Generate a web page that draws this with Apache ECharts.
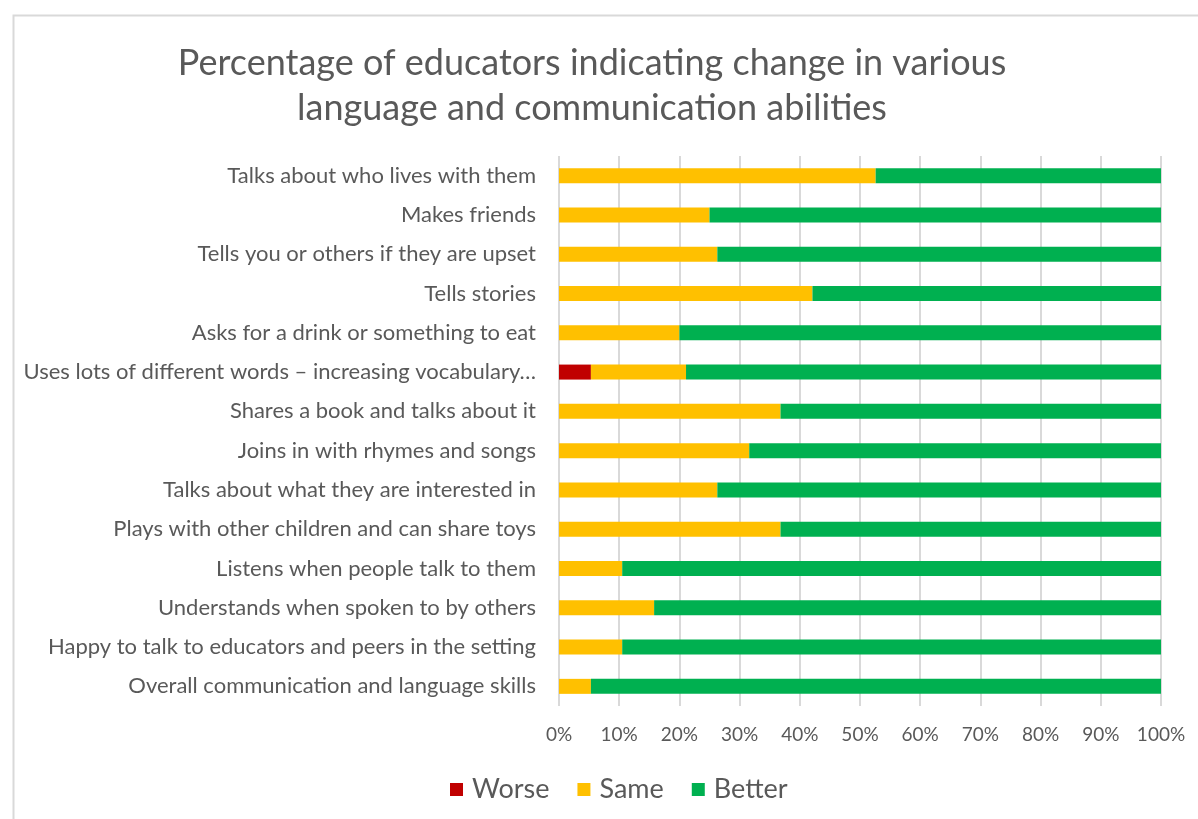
<!DOCTYPE html>
<html>
<head>
<meta charset="utf-8">
<script src="https://cdn.jsdelivr.net/npm/echarts@6/dist/echarts.min.js"></script>
<style>
  html, body { margin: 0; padding: 0; background: #fff; }
  #chart { width: 1198px; height: 819px; }
</style>
</head>
<body>
<div id="chart"></div>
<script>
// Abilities, listed top to bottom
const categories = [
  'Talks about who lives with them',
  'Makes friends',
  'Tells you or others if they are upset',
  'Tells stories',
  'Asks for a drink or something to eat',
  'Uses lots of different words \u2013 increasing vocabulary\u2026',
  'Shares a book and talks about it',
  'Joins in with rhymes and songs',
  'Talks about what they are interested in',
  'Plays with other children and can share toys',
  'Listens when people talk to them',
  'Understands when spoken to by others',
  'Happy to talk to educators and peers in the setting',
  'Overall communication and language skills'
];

// Share of educators (%) for each response
const worse  = [0, 0, 0, 0, 0, 5.3, 0, 0, 0, 0, 0, 0, 0, 0];
const same   = [52.6, 25, 26.3, 42.1, 20, 15.8, 36.8, 31.6, 26.3, 36.8, 10.5, 15.8, 10.5, 5.3];
const better = [47.4, 75, 73.7, 57.9, 80, 78.9, 63.2, 68.4, 73.7, 63.2, 89.5, 84.2, 89.5, 94.7];

const tickValues = [0, 10, 20, 30, 40, 50, 60, 70, 80, 90, 100];

const FONT = 'Lato, "Open Sans", sans-serif';
const TEXT = '#595959';

const chart = echarts.init(document.getElementById('chart'), null, { renderer: 'canvas' });

function barSeries(name, data, color) {
  return {
    name: name,
    type: 'bar',
    stack: 'total',
    data: data,
    barWidth: 15,
    itemStyle: { color: color },
    emphasis: { disabled: true }
  };
}

chart.setOption({
  animation: false,
  backgroundColor: '#ffffff',
  graphic: [{
    type: 'rect',
    left: 11, top: 13,
    shape: { width: 1200, height: 830 },
    style: { fill: 'none', stroke: '#d9d9d9', lineWidth: 2 },
    silent: true
  }],
  title: {
    text: 'Percentage of educators indicating change in various\nlanguage and communication abilities',
    left: 587,
    top: 36,
    textAlign: 'center',
    textStyle: {
      fontFamily: FONT,
      fontSize: 36,
      fontWeight: 'normal',
      color: TEXT,
      lineHeight: 45
    }
  },
  legend: {
    data: ['Worse', 'Same', 'Better'],
    left: 445,
    top: 771,
    itemWidth: 13,
    itemHeight: 13,
    itemGap: 28,
    icon: 'rect',
    textStyle: { fontFamily: FONT, fontSize: 27, color: TEXT, padding: [0, 0, 0, 4] }
  },
  grid: {
    left: 559,
    right: 37,
    top: 156,
    bottom: 113,
    containLabel: false
  },
  xAxis: {
    type: 'value',
    min: 0,
    max: 100,
    interval: 10,
    axisLine: { show: false },
    axisTick: { show: false },
    splitLine: { show: true, lineStyle: { color: '#d9d9d9', width: 2 } },
    axisLabel: {
      fontFamily: FONT,
      fontSize: 19,
      color: TEXT,
      margin: 19,
      formatter: function (v) { return tickValues.indexOf(v) >= 0 ? v + '%' : ''; }
    }
  },
  yAxis: {
    type: 'category',
    data: categories,
    inverse: true,
    axisLine: { show: false },
    axisTick: { show: false },
    axisLabel: {
      fontFamily: FONT,
      fontSize: 22,
      color: TEXT,
      margin: 23
    }
  },
  series: [
    barSeries('Worse', worse, '#c00000'),
    barSeries('Same', same, '#ffc000'),
    barSeries('Better', better, '#00b050')
  ]
});
</script>
</body>
</html>
